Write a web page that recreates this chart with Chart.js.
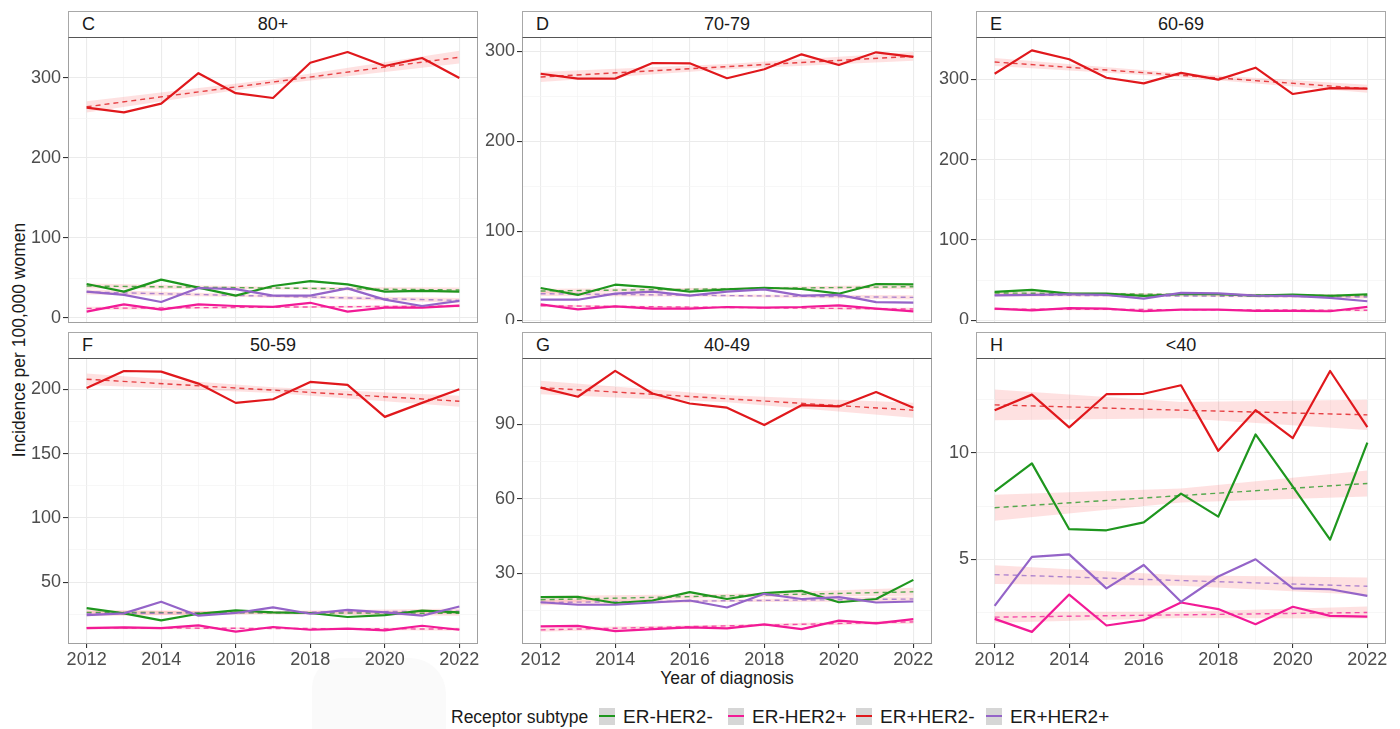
<!DOCTYPE html>
<html>
<head>
<meta charset="utf-8">
<script src="https://cdn.jsdelivr.net/npm/chart.js@4.4.1/dist/chart.umd.min.js"></script>
<style>
  body { margin: 0; width: 1400px; height: 729px; background: #fff; position: relative; overflow: hidden;
         font-family: 'Liberation Sans', Arial, Helvetica, sans-serif; color: #1a1a1a; }
  canvas { position: absolute; }
  .strip { position: absolute; height: 27px; box-sizing: border-box; background: #fff;
           border: 1px solid #a8a8a8; border-bottom: 1.5px solid #555; font-size: 18px; line-height: 25px; }
  .strip .tag { position: absolute; left: 13px; top: 0; }
  .strip .title { display: block; text-align: center; }
  .ytitle { position: absolute; left: 19px; top: 340px; transform: translate(-50%, -50%) rotate(-90deg);
            white-space: nowrap; font-size: 17.5px; }
  .xtitle { position: absolute; left: 627px; width: 200px; top: 667px; text-align: center; font-size: 17.5px; line-height: 22px; }
  .smudge { position: absolute; left: 312px; top: 658px; width: 134px; height: 90px; border-radius: 30px 36px 0 0; background: #fafafa; }
  .legend-title, .legend-label { position: absolute; top: 706px; line-height: 22px; white-space: nowrap; }
  .legend-title { font-size: 17.5px; }
  .legend-label { font-size: 19px; }
  .legend-key { position: absolute; top: 708px; width: 16px; height: 17px; background: #d6d6d6; }
  .legend-key i { position: absolute; left: 0; right: 0; top: 7px; height: 2.4px; }
</style>
</head>
<body>
<div class="smudge"></div>
<div class="ytitle">Incidence per 100,000 women</div>
<div class="xtitle">Year of diagnosis</div>
<script>
// Years and subtypes
const years = [2012, 2013, 2014, 2015, 2016, 2017, 2018, 2019, 2020, 2021, 2022];
const trendYears = [2012, 2017, 2022];
const xMajor = [2012, 2014, 2016, 2018, 2020, 2022];
const subtypes = ['ER-HER2-', 'ER-HER2+', 'ER+HER2-', 'ER+HER2+'];

// C: 80+  (rows: ER-HER2-, ER-HER2+, ER+HER2-, ER+HER2+)
const rates80 = [
    [42.5, 33, 48, 38, 28, 40, 46, 42, 33, 34, 33],
    [8, 17, 10.5, 17, 15, 14, 19, 8, 13, 13, 15.5],
    [263, 257, 268, 306, 281, 275, 319, 332.5, 315, 325, 300],
    [33, 29, 20, 37.5, 36, 28, 28, 37, 23, 15, 21.5]
];
const trend80 = [[40, 37.5, 35], [12, 13.5, 15], [264, 295, 326], [32.5, 27.2, 22]];
const band80 = [[3, 1.5, 3], [2, 1, 2], [7, 3.5, 8], [3, 1.5, 3]];
const yMajor80 = [0, 100, 200, 300];
const yMinor80 = [50, 150, 250];

// D: 70-79
const rates70 = [
    [36.7, 29, 40.4, 37.5, 32.6, 35.2, 37, 35.6, 30.4, 41.2, 40.8],
    [18.5, 13, 16.3, 13.7, 13.7, 15.6, 14.8, 15.6, 17.4, 13.7, 10.8],
    [275, 269.6, 269.6, 287, 286.6, 270, 280, 296.6, 284.8, 298.9, 293.7],
    [23.7, 23.7, 30.4, 32.6, 28.2, 32.6, 35.2, 28.2, 29, 21, 20.4]
];
const trend70 = [[33.4, 35.8, 38.2], [17, 15.1, 13.3], [271.4, 282.9, 294.4], [30.4, 28.3, 26.3]];
const band70 = [[2.5, 1.2, 2.5], [1.5, 0.8, 1.5], [5.5, 3, 4.8], [2.5, 1.2, 2.5]];
const yMajor70 = [0, 100, 200, 300];
const yMinor70 = [50, 150, 250];

// E: 60-69
const rates60 = [
    [35.3, 37.8, 33.2, 33.2, 30.3, 32.4, 32.4, 30.7, 32, 30.3, 32.4],
    [14.5, 12.4, 15, 14.5, 11.2, 13.3, 13.3, 11.6, 11.6, 11.2, 16.6],
    [307, 336, 325, 302, 295, 308, 299.6, 314.5, 281.7, 289, 288.4],
    [31, 31.5, 32.4, 31.5, 27, 34, 33.6, 30.7, 30.3, 27.8, 23.7]
];
const trend60 = [[34, 32.2, 30.5], [14, 13.2, 12.5], [321.6, 305, 288.4], [31.5, 30.2, 29]];
const band60 = [[2, 1, 2], [1.5, 0.8, 1.5], [5, 2.5, 5], [2, 1, 2]];
const yMajor60 = [0, 100, 200, 300];
const yMinor60 = [50, 150, 250];

// F: 50-59
const rates50 = [
    [29.8, 25.7, 20.3, 25.4, 28, 26.5, 26, 22.9, 24.4, 27.8, 26.5],
    [14.3, 14.8, 14.3, 16.4, 11.5, 15.1, 13, 13.8, 12.5, 16.1, 13],
    [201, 214.2, 213.7, 204.4, 189.4, 192.2, 205.7, 203.4, 178.5, 189.4, 200],
    [24.4, 25.7, 34.8, 23.9, 26, 30.4, 25.4, 28.5, 26.5, 23.9, 31.1]
];
const trend50 = [[26.5, 26.1, 25.8], [14.5, 14, 13.5], [207.8, 199.3, 190.7], [25.5, 26.5, 27.5]];
const band50 = [[2, 1, 2], [1.2, 0.6, 1.2], [4.5, 2.2, 4.3], [2, 1, 2]];
const yMajor50 = [50, 100, 150, 200];
const yMinor50 = [25, 75, 125, 175];

// G: 40-49
const rates40 = [
    [20.4, 20.5, 18, 19, 22.4, 19.6, 22, 22.9, 18.3, 19.6, 27.3],
    [8.6, 8.8, 6.7, 7.5, 8.2, 7.8, 9.4, 7.5, 10.9, 9.8, 11.5],
    [104.7, 101, 111.4, 102.3, 98.3, 96.6, 89.6, 97.6, 97.1, 102.9, 96.6],
    [18.3, 17.3, 17.3, 18.2, 19, 16.2, 21.7, 19.6, 20.4, 18.2, 18.6]
];
const trend40 = [[19.3, 20.9, 22.5], [7.2, 8.8, 10.4], [104.7, 100.2, 95.6], [18.2, 18.9, 19.6]];
const band40 = [[1.5, 0.7, 1.6], [0.8, 0.4, 0.8], [2.7, 1.4, 3], [1.1, 0.5, 1.1]];
const yMajor40 = [30, 60, 90];
const yMinor40 = [15, 45, 75, 105];

// H: <40
const ratesU40 = [
    [8.19, 9.5, 6.41, 6.36, 6.73, 8.08, 7, 10.86, 8.41, 5.92, 10.48],
    [2.2, 1.59, 3.34, 1.89, 2.14, 2.97, 2.66, 1.95, 2.77, 2.34, 2.31],
    [12, 12.73, 11.19, 12.75, 12.77, 13.17, 10.09, 12, 10.69, 13.84, 11.2],
    [2.81, 5.11, 5.23, 3.63, 4.73, 3, 4.19, 5, 3.63, 3.59, 3.28]
];
const trendU40 = [[7.42, 7.99, 8.56], [2.28, 2.39, 2.5], [12.25, 12.0, 11.78], [4.28, 4.0, 3.73]];
const bandU40 = [[0.61, 0.33, 0.61], [0.26, 0.15, 0.28], [0.72, 0.38, 0.71], [0.44, 0.25, 0.41]];
const yMajorU40 = [5, 10];
const yMinorU40 = [2.5, 7.5, 12.5];

// Styling
const COLORS = ['#1e961e', '#f21a96', '#e0181c', '#9464c8'];
const TREND_COLORS = ['rgba(30,150,30,0.75)', 'rgba(242,26,150,0.75)', 'rgba(224,24,28,0.8)', 'rgba(148,100,200,0.75)'];
const BAND_FILL = 'rgba(250,40,40,0.14)';
const GRID_MAJOR = '#ebebeb';
const GRID_MINOR = '#f4f4f4';
const TICK_COLOR = '#4d4d4d';
const FONT = "'Liberation Sans', Arial, Helvetica, sans-serif";

// Layout (pixels)
const COL_LEFT = [68, 522, 976];
const ROW_TOP = [37, 358];
const PANEL_W = 410, PANEL_H = 286;
const AXIS_W = 60, PAD_R = 12, AXIS_H = 30;

const panels = [
    { letter: 'C', title: '80+',   rates: rates80,  trend: trend80,  band: band80,  yMin: -6.25, yMax: 351.25, yMajor: yMajor80,  yMinor: yMinor80 },
    { letter: 'D', title: '70-79', rates: rates70,  trend: trend70,  band: band70,  yMin: -2.2,  yMax: 315.9,  yMajor: yMajor70,  yMinor: yMinor70 },
    { letter: 'E', title: '60-69', rates: rates60,  trend: trend60,  band: band60,  yMin: -3.4,  yMax: 352.7,  yMajor: yMajor60,  yMinor: yMinor60 },
    { letter: 'F', title: '50-59', rates: rates50,  trend: trend50,  band: band50,  yMin: 1.9,   yMax: 224.3,  yMajor: yMajor50,  yMinor: yMinor50 },
    { letter: 'G', title: '40-49', rates: rates40,  trend: trend40,  band: band40,  yMin: 1.5,   yMax: 116.6,  yMajor: yMajor40,  yMinor: yMinor40 },
    { letter: 'H', title: '<40',   rates: ratesU40, trend: trendU40, band: bandU40, yMin: 1.02,  yMax: 14.45,  yMajor: yMajorU40, yMinor: yMinorU40 }
];

// Panel border drawn on top, like ggplot's panel.border
const panelBorder = {
    id: 'panelBorder',
    afterDraw(chart) {
        const { ctx, chartArea: a } = chart;
        ctx.save();
        ctx.strokeStyle = '#a0a0a0';
        ctx.lineWidth = 1;
        ctx.strokeRect(Math.round(a.left) + 0.5, Math.round(a.top) + 0.5,
                       Math.round(a.right - a.left) - 1, Math.round(a.bottom - a.top) - 1);
        ctx.restore();
    }
};

function buildDatasets(p) {
    const datasets = [];
    // confidence bands (upper filled down to lower)
    p.band.forEach((hw, s) => {
        datasets.push({
            data: trendYears.map((yr, k) => ({ x: yr, y: p.trend[s][k] + hw[k] })),
            fill: '+1', backgroundColor: BAND_FILL, borderColor: 'rgba(0,0,0,0)',
            borderWidth: 1, pointRadius: 0, order: 11 - s
        }, {
            data: trendYears.map((yr, k) => ({ x: yr, y: p.trend[s][k] - hw[k] })),
            fill: false, borderColor: 'rgba(0,0,0,0)', borderWidth: 1, pointRadius: 0, order: 11 - s
        });
    });
    // dashed linear trends
    p.trend.forEach((t, s) => {
        datasets.push({
            data: trendYears.map((yr, k) => ({ x: yr, y: t[k] })),
            borderColor: TREND_COLORS[s], borderWidth: 1.4, borderDash: [5, 4],
            pointRadius: 0, fill: false, order: 7 - s
        });
    });
    // observed incidence
    p.rates.forEach((r, s) => {
        datasets.push({
            label: subtypes[s],
            data: years.map((yr, k) => ({ x: yr, y: r[k] })),
            borderColor: COLORS[s], borderWidth: 2.2, borderJoinStyle: 'round',
            pointRadius: 0, fill: false, tension: 0, order: 3 - s
        });
    });
    return datasets;
}

function createPanel(p, i) {
    const row = Math.floor(i / 3), col = i % 3;
    const left = COL_LEFT[col], top = ROW_TOP[row];
    const bottomRow = row === 1;

    const canvas = document.createElement('canvas');
    const w = AXIS_W + PANEL_W + PAD_R;
    const h = 1 + PANEL_H + (bottomRow ? AXIS_H : 1);
    canvas.width = w;
    canvas.height = h;
    canvas.style.left = (left - AXIS_W) + 'px';
    canvas.style.top = (top - 1) + 'px';
    canvas.style.width = w + 'px';
    canvas.style.height = h + 'px';
    document.body.appendChild(canvas);

    const strip = document.createElement('div');
    strip.className = 'strip';
    strip.style.left = left + 'px';
    strip.style.top = (top - 26) + 'px';
    strip.style.width = PANEL_W + 'px';
    strip.innerHTML = '<span class="tag"></span><span class="title"></span>';
    strip.querySelector('.tag').textContent = p.letter;
    strip.querySelector('.title').textContent = p.title;
    document.body.appendChild(strip);

    const yTicks = p.yMajor.concat(p.yMinor).sort((a, b) => a - b);
    const isMajorX = c => c.tick && xMajor.includes(c.tick.value);
    const isMajorY = c => c.tick && p.yMajor.includes(c.tick.value);

    return new Chart(canvas, {
        type: 'line',
        data: { datasets: buildDatasets(p) },
        options: {
            responsive: false,
            animation: false,
            devicePixelRatio: 1,
            events: [],
            layout: { padding: { left: 0, top: 1, right: PAD_R, bottom: bottomRow ? 0 : 1 } },
            plugins: { legend: { display: false }, tooltip: { enabled: false } },
            scales: {
                x: {
                    type: 'linear', min: 2011.5, max: 2022.5,
                    afterBuildTicks: sc => { sc.ticks = years.map(v => ({ value: v })); },
                    afterFit: sc => { sc.height = bottomRow ? AXIS_H : 0; sc.paddingLeft = 0; sc.paddingRight = 0; },
                    ticks: {
                        display: bottomRow, autoSkip: false, maxRotation: 0, padding: 1,
                        color: TICK_COLOR, font: { family: FONT, size: 18 },
                        callback: v => xMajor.includes(v) ? String(v) : ''
                    },
                    grid: {
                        color: c => isMajorX(c) ? GRID_MAJOR : GRID_MINOR,
                        lineWidth: c => isMajorX(c) ? 1.1 : 0.7,
                        drawTicks: bottomRow, tickLength: 4,
                        tickColor: c => isMajorX(c) ? '#333' : 'rgba(0,0,0,0)'
                    },
                    border: { display: false }
                },
                y: {
                    type: 'linear', min: p.yMin, max: p.yMax,
                    afterBuildTicks: sc => { sc.ticks = yTicks.map(v => ({ value: v })); },
                    afterFit: sc => { sc.width = AXIS_W; sc.paddingTop = 0; sc.paddingBottom = 0; },
                    ticks: {
                        autoSkip: false, padding: 2, color: TICK_COLOR, font: { family: FONT, size: 18 },
                        callback: v => p.yMajor.includes(v) ? String(v) : ''
                    },
                    grid: {
                        color: c => isMajorY(c) ? GRID_MAJOR : GRID_MINOR,
                        lineWidth: c => isMajorY(c) ? 1.1 : 0.7,
                        tickLength: 5,
                        tickColor: c => isMajorY(c) ? '#333' : 'rgba(0,0,0,0)'
                    },
                    border: { display: false }
                }
            }
        },
        plugins: [panelBorder]
    });
}

// Legend along the bottom
function buildLegend() {
    const title = document.createElement('div');
    title.className = 'legend-title';
    title.style.left = '451px';
    title.textContent = 'Receptor subtype';
    document.body.appendChild(title);

    const labelLeft = [623, 752, 880, 1010];
    subtypes.forEach((name, s) => {
        const key = document.createElement('div');
        key.className = 'legend-key';
        key.style.left = (labelLeft[s] - 24) + 'px';
        key.innerHTML = '<i></i>';
        key.firstChild.style.background = COLORS[s];
        document.body.appendChild(key);

        const label = document.createElement('div');
        label.className = 'legend-label';
        label.style.left = labelLeft[s] + 'px';
        label.textContent = name;
        document.body.appendChild(label);
    });
}

panels.forEach(createPanel);
buildLegend();
</script>
</body>
</html>
